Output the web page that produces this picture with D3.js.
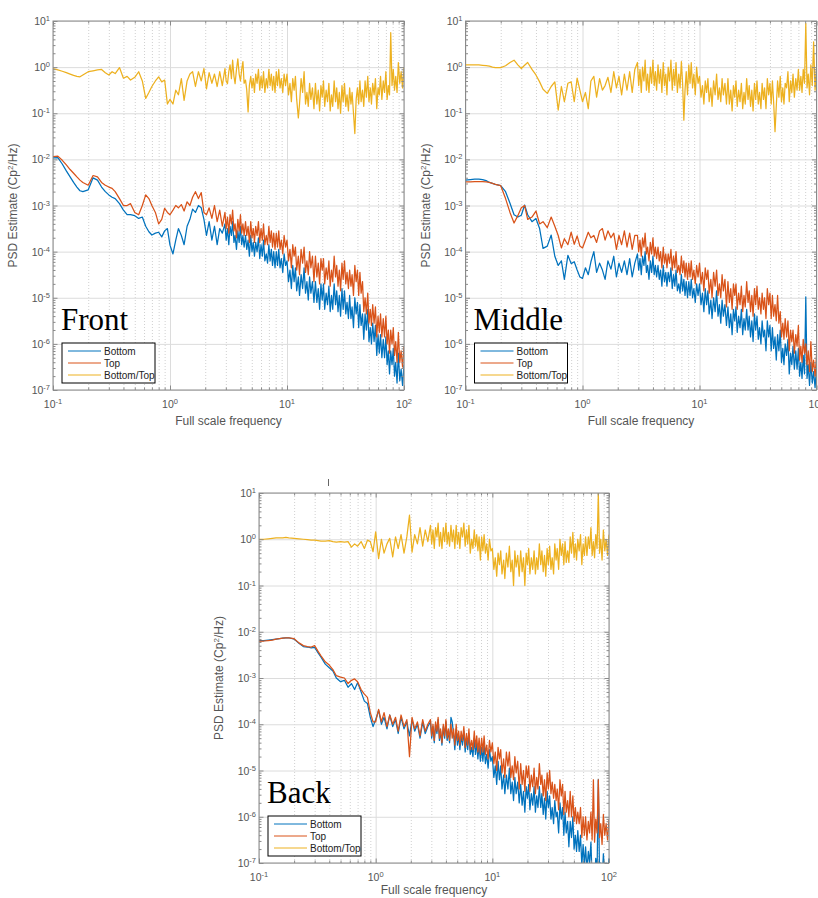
<!DOCTYPE html>
<html>
<head>
<meta charset="utf-8">
<script src="https://cdn.jsdelivr.net/npm/d3@7"></script>
<style>
  body { margin: 0; background: #fff; }
  svg { display: block; font-family: 'Liberation Sans', Arial, sans-serif; }
</style>
</head>
<body>
<div id="fig"></div>
<script>
// frequency grid shared by all three panels (denser where the spectra turn to noise)
const freq = [
  0.10, 0.11, 0.12, 0.13, 0.14, 0.15, 0.16, 0.17, 0.18, 0.20, 0.22, 0.24, 0.26, 0.28, 0.30, 0.32,
  0.34, 0.37, 0.40, 0.43, 0.46, 0.50, 0.54, 0.58, 0.62, 0.66, 0.70, 0.75, 0.80, 0.85, 0.90, 0.95,
  1.0, 1.06, 1.12, 1.18, 1.25, 1.32, 1.4, 1.48, 1.56, 1.65, 1.75, 1.85, 1.95, 2.05, 2.16, 2.28, 2.4, 2.53, 2.66, 2.8,
  2.95, 3.02, 3.1, 3.18, 3.26, 3.35, 3.43, 3.52, 3.6, 3.7, 3.8, 3.9, 4.0, 4.1, 4.2, 4.3, 4.42, 4.53, 4.65, 4.77,
  4.9, 5.02, 5.15, 5.27, 5.4, 5.55, 5.7, 5.85, 6.0, 6.15, 6.3, 6.47, 6.65, 6.82, 7.0, 7.17, 7.35, 7.52, 7.7, 7.9,
  8.1, 8.3, 8.5, 8.72, 8.95, 9.2, 9.45, 9.72,
  10, 10.3, 10.6, 10.9, 11.2, 11.5, 11.8, 12.1, 12.5, 12.8, 13.2, 13.6, 14, 14.4, 14.8, 15.2, 15.6, 16, 16.5, 17,
  17.5, 18, 18.5, 19, 19.5, 20, 20.5, 21, 21.6, 22.2, 22.8, 23.4, 24, 24.6, 25.3, 26, 26.6, 27.3, 28, 28.7,
  29.5, 30.2, 31, 31.8, 32.6, 33.5, 34.3, 35.2, 36, 37, 38, 39, 40, 41, 42, 43, 44.2, 45.3, 46.5, 47.7,
  49, 50.2, 51.5, 52.7, 54, 55.5, 57, 58.5, 60, 61.5, 63, 64.7, 66.5, 68.2, 70, 71.7, 73.5, 75.2, 77, 79,
  81, 83, 85, 87.2, 89.5, 92, 94.5, 97.2, 100
];

// PSD values as log10 exponents
const frontBottom = [
  -1.97, -1.96, -2.1, -2.25, -2.38, -2.5, -2.6, -2.68, -2.7, -2.66, -2.4, -2.45, -2.6, -2.7, -2.77, -2.82,
  -2.85, -2.96, -3.1, -3.2, -3.2, -3.22, -3.28, -3.25, -3.45, -3.57, -3.64, -3.6, -3.58, -3.68, -3.55, -3.5,
  -3.86, -4.05, -3.75, -3.5, -3.65, -3.85, -3.45, -3.3, -3.08, -3.15, -3.0, -3.05, -3.3, -3.65, -3.35, -3.75, -3.45, -3.85, -3.5, -3.6,
  -3.4, -3.75, -3.5, -3.85, -3.45, -3.65, -3.35, -3.8, -3.65, -3.95, -3.55, -3.8, -3.45, -3.85, -3.65, -3.9,
  -3.65, -3.95, -3.75, -4.1, -3.65, -4.0, -3.8, -4.1, -3.8, -4.0, -3.7, -4.15, -3.85, -4.1, -3.75, -4.2,
  -4.05, -4.25, -3.85, -4.2, -3.95, -4.3, -4.0, -4.35, -4.0, -4.3, -3.95, -4.35, -4.15, -4.45, -4.05, -4.3,
  -4.2, -4.65, -4.4, -4.8, -4.3, -4.65, -4.35, -4.85, -4.55, -4.95, -4.5, -4.8, -4.35, -4.9, -4.65, -5.05,
  -4.55, -4.9, -4.65, -5.1, -4.65, -5.1, -4.8, -5.25, -4.7, -5.05, -4.7, -5.25, -4.9, -5.15, -4.75, -5.3,
  -4.95, -5.25, -4.7, -5.15, -4.85, -5.3, -4.95, -5.4, -4.8, -5.25, -4.85, -5.35, -5.1, -5.45, -4.95, -5.45,
  -5.2, -5.65, -5.0, -5.35, -5.1, -5.65, -5.15, -5.6, -5.35, -5.9, -5.35, -5.7, -5.25, -5.95, -5.65, -6.0,
  -5.55, -5.95, -5.6, -6.25, -5.8, -6.2, -5.8, -6.3, -5.9, -6.3, -5.85, -6.45, -6.15, -6.65, -6.15, -6.45,
  -6.1, -6.7, -6.4, -6.85, -6.2, -6.8, -6.55, -6.9, -6.45
];
const frontTop = [
  -1.94, -1.93, -2.02, -2.12, -2.22, -2.3, -2.38, -2.45, -2.5, -2.56, -2.35, -2.38, -2.5, -2.56, -2.6, -2.63,
  -2.7, -2.85, -3.0, -3.0, -2.96, -3.15, -3.2, -3.0, -2.77, -2.85, -3.0, -3.15, -3.4, -3.3, -3.06, -3.15,
  -3.2, -3.1, -3.0, -3.05, -2.98, -3.12, -2.92, -3.0, -2.82, -2.7, -2.85, -2.72, -3.15, -3.2, -3.05, -3.28, -3.0, -3.35, -3.1, -3.45,
  -3.15, -3.5, -3.25, -3.6, -3.2, -3.4, -3.1, -3.55, -3.4, -3.7, -3.3, -3.55, -3.2, -3.6, -3.4, -3.65,
  -3.35, -3.65, -3.45, -3.8, -3.35, -3.7, -3.5, -3.8, -3.45, -3.65, -3.35, -3.8, -3.5, -3.75, -3.4, -3.85,
  -3.65, -3.85, -3.45, -3.8, -3.55, -3.9, -3.6, -3.95, -3.6, -3.9, -3.55, -3.95, -3.75, -4.05, -3.65, -3.9,
  -3.75, -4.2, -3.95, -4.35, -3.85, -4.1, -3.9, -4.4, -4.1, -4.5, -3.95, -4.25, -3.9, -4.45, -4.2, -4.5,
  -4.0, -4.35, -4.1, -4.65, -4.1, -4.55, -4.25, -4.7, -4.15, -4.4, -4.15, -4.7, -4.35, -4.6, -4.2, -4.75,
  -4.4, -4.65, -4.1, -4.55, -4.3, -4.75, -4.4, -4.85, -4.25, -4.6, -4.2, -4.7, -4.45, -4.8, -4.4, -4.75,
  -4.5, -4.95, -4.3, -4.65, -4.4, -4.95, -4.45, -4.9, -4.65, -5.3, -5.0, -5.35, -4.9, -5.55, -5.25, -5.6,
  -5.15, -5.55, -5.2, -5.85, -5.4, -5.75, -5.35, -5.85, -5.45, -5.85, -5.4, -6.0, -5.7, -6.2, -5.7, -6.0,
  -5.65, -6.25, -5.95, -6.4, -5.75, -6.4, -6.15, -6.5, -6.05
];
const frontRatio = [
  -0.03, -0.06, -0.09, -0.12, -0.15, -0.18, -0.2, -0.21, -0.17, -0.1, -0.08, -0.06, -0.05, -0.12, -0.17, -0.1,
  -0.14, -0.01, -0.24, -0.2, -0.28, -0.22, -0.1, -0.3, -0.68, -0.55, -0.42, -0.3, -0.21, -0.32, -0.28, -0.8,
  -0.7, -0.8, -0.5, -0.6, -0.25, -0.72, -0.3, -0.15, -0.1, -0.42, -0.1, -0.3, -0.03, -0.47, -0.12, -0.35, -0.15, -0.42, -0.1, -0.4,
  -0.03, -0.3, -0.36, -0.1, 0.05, -0.25, 0.15, -0.2, -0.36, -0.05, 0.18, -0.15, -0.3, -0.05, 0.12, -0.35,
  -0.28, -0.5, -0.97, -0.4, -0.2, -0.45, -0.25, -0.55, -0.15, -0.35, -0.05, -0.5, -0.2, -0.45, -0.1, -0.55,
  -0.25, -0.45, -0.05, -0.4, -0.15, -0.5, -0.2, -0.55, -0.1, -0.4, -0.05, -0.45, -0.25, -0.55, -0.15, -0.4,
  -0.15, -0.6, -0.35, -0.75, -0.25, -0.5, -0.2, -0.7, -1.1, -0.8, -0.25, -0.55, -0.1, -0.8, -0.55, -0.85,
  -0.35, -0.7, -0.45, -0.9, -0.35, -0.8, -0.5, -0.95, -0.4, -0.65, -0.3, -0.85, -0.5, -0.75, -0.35, -0.95,
  -0.6, -0.85, -0.3, -0.75, -0.45, -0.9, -0.55, -1.0, -0.4, -0.75, -0.35, -0.85, -0.6, -0.95, -0.45, -0.8,
  -0.55, -1.0, -1.44, -0.7, -0.45, -0.8, -0.3, -0.75, -0.5, -0.85, -0.3, -0.65, -0.2, -0.75, -0.45, -0.8,
  -0.35, -0.6, -0.25, -0.9, -0.45, -0.6, -0.2, -0.7, -0.3, -0.55, -0.1, -0.7, -0.4, -0.6, 0.75, -0.4,
  -0.05, -0.5, -0.2, -0.55, 0.1, -0.35, -0.1, -0.45, 0.0
];

const middleBottom = [
  -2.45, -2.44, -2.43, -2.43, -2.44, -2.46, -2.5, -2.52, -2.54, -2.57, -2.7, -2.95, -3.2, -3.25, -3.21, -2.99,
  -3.2, -3.35, -3.28, -3.5, -3.93, -3.88, -3.64, -4.1, -4.3, -4.2, -4.6, -4.08, -4.26, -4.22, -4.4, -4.55,
  -4.58, -4.35, -4.5, -4.22, -4.0, -4.45, -4.25, -4.4, -4.6, -4.2, -4.38, -4.1, -4.55, -4.25, -4.45, -4.2, -4.5, -4.15, -4.55, -4.25,
  -4.05, -4.4, -4.15, -4.5, -4.1, -4.3, -4.0, -4.45, -4.3, -4.6, -4.2, -4.45, -4.1, -4.5, -4.3, -4.55,
  -4.3, -4.6, -4.4, -4.75, -4.3, -4.65, -4.45, -4.75, -4.45, -4.65, -4.35, -4.8, -4.5, -4.75, -4.4, -4.85,
  -4.7, -4.9, -4.5, -4.85, -4.6, -4.95, -4.65, -5.0, -4.65, -4.95, -4.6, -5.0, -4.8, -5.1, -4.7, -4.95,
  -4.7, -5.15, -4.9, -5.3, -4.8, -5.15, -4.85, -5.35, -5.05, -5.45, -5.0, -5.3, -4.85, -5.4, -5.15, -5.55,
  -5.05, -5.4, -5.15, -5.6, -5.2, -5.65, -5.35, -5.8, -5.25, -5.5, -5.2, -5.75, -5.4, -5.65, -5.25, -5.8,
  -5.45, -5.7, -5.25, -5.7, -5.4, -5.85, -5.5, -5.95, -5.35, -5.7, -5.4, -5.9, -5.65, -6.0, -5.5, -5.85,
  -5.7, -6.15, -5.5, -5.85, -5.6, -6.15, -5.65, -6.1, -5.85, -6.35, -5.8, -6.15, -5.7, -6.4, -6.1, -6.45,
  -6.0, -6.25, -5.9, -6.65, -6.2, -6.45, -6.05, -6.55, -6.15, -6.55, -6.1, -6.7, -6.4, -6.75, -6.25, -6.65,
  -4.98, -6.75, -6.45, -6.9, -6.4, -6.85, -6.6, -6.95, -6.5
];
const middleTop = [
  -2.49, -2.49, -2.48, -2.48, -2.48, -2.49, -2.5, -2.52, -2.54, -2.57, -2.85, -3.15, -3.38, -3.22, -3.05, -3.0,
  -3.3, -3.25, -3.12, -3.4, -3.35, -3.48, -3.25, -3.45, -3.65, -3.92, -3.72, -3.85, -3.58, -3.84, -3.66, -3.88,
  -3.92, -3.75, -3.58, -3.7, -3.65, -3.8, -3.55, -3.5, -3.75, -3.55, -3.7, -3.6, -3.95, -3.65, -3.85, -3.55, -3.9, -3.6, -3.95, -3.65,
  -3.65, -4.0, -3.75, -4.1, -3.7, -3.9, -3.6, -4.05, -3.9, -4.2, -3.8, -4.05, -3.7, -4.1, -3.9, -4.15,
  -3.9, -4.2, -4.0, -4.35, -3.9, -4.25, -4.05, -4.35, -4.05, -4.25, -3.95, -4.4, -4.1, -4.35, -4.0, -4.45,
  -4.3, -4.5, -4.1, -4.45, -4.2, -4.55, -4.25, -4.6, -4.25, -4.55, -4.2, -4.6, -4.4, -4.7, -4.3, -4.55,
  -4.25, -4.7, -4.45, -4.85, -4.35, -4.6, -4.4, -4.9, -4.6, -5.0, -4.45, -4.75, -4.4, -4.95, -4.7, -5.0,
  -4.5, -4.85, -4.6, -5.2, -4.65, -5.1, -4.8, -5.25, -4.7, -4.95, -4.7, -5.25, -4.9, -5.15, -4.75, -5.3,
  -4.95, -5.2, -4.65, -5.1, -4.85, -5.3, -4.95, -5.4, -4.8, -5.15, -4.75, -5.25, -5.0, -5.35, -4.9, -5.25,
  -5.0, -5.45, -4.8, -5.15, -4.9, -5.45, -4.95, -5.4, -5.15, -5.5, -4.95, -5.55, -5.3, -5.85, -5.55, -5.9,
  -5.45, -5.85, -5.5, -6.15, -5.7, -5.95, -5.7, -6.2, -5.8, -6.05, -5.6, -6.35, -6.05, -6.4, -5.9, -6.2,
  -6.0, -6.45, -6.15, -6.6, -5.95, -6.6, -6.35, -6.7, -6.25
];
const middleRatio = [
  0.05, 0.05, 0.05, 0.05, 0.04, 0.03, 0.02, 0.0, -0.01, -0.01, 0.03, 0.1, 0.15, 0.05, -0.03, 0.04,
  0.1, -0.05, -0.17, -0.32, -0.48, -0.57, -0.42, -0.32, -0.93, -0.42, -0.75, -0.35, -0.32, -0.75, -0.24, -0.5,
  -0.75, -0.55, -0.9, -0.3, -0.2, -0.65, -0.25, -0.5, -0.4, -0.22, -0.55, -0.1, -0.45, -0.2, -0.6, -0.15, -0.5, -0.1, -0.55, -0.05,
  0.1, -0.4, -0.05, -0.55, 0.0, -0.3, 0.15, -0.5, -0.15, -0.55, 0.0, -0.35, 0.15, -0.4, -0.1, -0.5,
  0.05, -0.35, -0.05, -0.55, 0.1, -0.4, -0.15, -0.6, 0.0, -0.3, 0.15, -0.5, -0.05, -0.4, 0.1, -0.55,
  -0.15, -0.45, 0.12, -0.35, -1.15, -0.5, -0.1, -0.6, 0.05, -0.35, 0.1, -0.45, -0.15, -0.6, 0.0, -0.35,
  -0.2, -0.65, -0.4, -0.8, -0.3, -0.55, -0.25, -0.75, -0.45, -0.85, -0.3, -0.6, -0.15, -0.7, -0.45, -0.75,
  -0.25, -0.6, -0.35, -0.8, -0.25, -0.8, -0.5, -0.95, -0.4, -0.65, -0.3, -0.85, -0.5, -0.75, -0.35, -0.9,
  -0.55, -0.8, -0.25, -0.7, -0.4, -0.85, -0.5, -0.95, -0.35, -0.7, -0.3, -0.8, -0.55, -0.9, -0.35, -0.7,
  -0.45, -0.9, -0.25, -0.6, -0.35, -0.8, -0.3, -0.75, -1.4, -0.85, -0.3, -0.65, -0.2, -0.75, -0.45, -0.8,
  -0.35, -0.45, -0.1, -0.75, -0.3, -0.55, -0.15, -0.65, -0.25, -0.5, -0.05, -0.5, -0.2, -0.55, -0.05, -0.35,
  0.95, -0.45, -0.15, -0.6, 0.05, -0.4, 0.55, -0.5, -0.05
];

const backBottom = [
  -2.19, -2.19, -2.18, -2.17, -2.16, -2.15, -2.14, -2.13, -2.13, -2.16, -2.25, -2.32, -2.33, -2.35, -2.34, -2.45,
  -2.55, -2.7, -2.78, -2.85, -3.0, -3.08, -3.05, -3.2, -3.12, -3.25, -3.1, -3.3, -3.5, -3.55, -3.85, -4.05,
  -3.9, -3.7, -4.0, -3.85, -4.1, -3.8, -4.05, -3.9, -4.2, -3.85, -4.1, -3.95, -4.25, -3.9, -4.15, -4.0, -4.3, -3.95, -4.2, -4.05,
  -3.95, -4.3, -4.05, -4.4, -4.0, -4.2, -3.9, -4.35, -4.15, -4.45, -4.05, -4.3, -3.95, -4.35, -4.15, -4.4,
  -3.85, -3.95, -4.2, -4.55, -4.1, -4.45, -4.25, -4.55, -4.25, -4.45, -4.15, -4.6, -4.3, -4.55, -4.2, -4.65,
  -4.5, -4.7, -4.3, -4.65, -4.4, -4.75, -4.45, -4.8, -4.5, -4.8, -4.45, -4.85, -4.65, -4.95, -4.55, -4.8,
  -4.7, -5.15, -4.9, -5.3, -4.8, -5.2, -4.9, -5.4, -5.1, -5.5, -5.1, -5.4, -4.95, -5.5, -5.25, -5.65,
  -5.15, -5.5, -5.25, -5.7, -5.3, -5.75, -5.45, -5.9, -5.35, -5.6, -5.3, -5.85, -5.5, -5.75, -5.35, -5.9,
  -5.55, -5.8, -5.35, -5.8, -5.5, -5.95, -5.6, -6.05, -5.45, -5.8, -5.55, -6.05, -5.8, -6.15, -5.65, -6.0,
  -5.9, -6.35, -5.7, -6.05, -5.8, -6.4, -5.9, -6.35, -6.1, -6.65, -6.1, -6.45, -6.0, -6.7, -6.4, -6.75,
  -6.3, -6.75, -6.4, -7.05, -6.6, -7.05, -6.65, -7.15, -6.75, -7.0, -6.55, -7.35, -7.05, -7.4, -6.9, -7.2,
  -5.2, -7.3, -7.0, -7.45, -6.8, -7.25, -7.0, -7.35, -6.9
];
const backTop = [
  -2.2, -2.2, -2.19, -2.18, -2.16, -2.15, -2.14, -2.13, -2.13, -2.15, -2.24, -2.3, -2.32, -2.33, -2.3, -2.42,
  -2.52, -2.65, -2.72, -2.82, -2.95, -2.98, -3.0, -3.12, -3.05, -3.02, -3.08, -3.25, -3.35, -3.42, -3.75, -3.95,
  -3.95, -3.68, -3.95, -3.75, -4.05, -3.8, -4.0, -3.85, -4.15, -3.8, -4.05, -3.9, -4.7, -3.85, -4.1, -3.95, -4.25, -3.9, -4.15, -4.0,
  -3.9, -4.25, -4.0, -4.35, -3.95, -4.15, -3.85, -4.3, -4.1, -4.4, -4.0, -4.25, -3.9, -4.3, -4.1, -4.35,
  -4.0, -4.3, -4.1, -4.45, -4.0, -4.35, -4.15, -4.45, -4.15, -4.35, -4.05, -4.5, -4.2, -4.45, -4.1, -4.55,
  -4.35, -4.55, -4.15, -4.5, -4.25, -4.6, -4.3, -4.65, -4.3, -4.6, -4.25, -4.65, -4.45, -4.75, -4.35, -4.6,
  -4.4, -4.85, -4.6, -5.0, -4.5, -4.75, -4.55, -5.05, -4.75, -5.15, -4.6, -4.9, -4.6, -5.15, -4.9, -5.2,
  -4.7, -5.05, -4.8, -5.4, -4.85, -5.3, -5.0, -5.45, -4.9, -5.15, -4.9, -5.45, -5.1, -5.35, -4.95, -5.5,
  -5.15, -5.4, -4.85, -5.3, -5.1, -5.55, -5.2, -5.65, -5.05, -5.4, -5.0, -5.5, -5.25, -5.6, -5.3, -5.65,
  -5.4, -5.85, -5.2, -5.55, -5.3, -5.95, -5.45, -5.9, -5.65, -6.0, -5.45, -6.0, -5.55, -6.1, -5.8, -6.15,
  -5.9, -6.15, -5.8, -6.45, -6.0, -6.4, -6.0, -6.5, -6.1, -6.35, -5.9, -6.5, -5.2, -6.55, -6.05, -6.35,
  -5.2, -6.45, -6.15, -6.6, -5.95, -6.4, -6.15, -6.5, -6.05
];
const backRatio = [
  0.0, 0.0, 0.01, 0.02, 0.03, 0.03, 0.03, 0.04, 0.03, 0.02, 0.01, 0.0, -0.01, -0.02, -0.02, -0.03,
  -0.04, -0.04, -0.03, -0.05, -0.06, -0.05, -0.06, -0.05, -0.17, -0.1, -0.15, -0.05, -0.2, -0.02, -0.05, -0.27,
  0.16, -0.42, 0.0, -0.3, -0.1, 0.02, -0.38, 0.05, -0.2, 0.1, -0.3, 0.05, 0.52, -0.28, 0.1, -0.1, 0.25, -0.15, 0.2, -0.05,
  0.3, -0.1, 0.2, -0.2, 0.25, 0.05, 0.35, -0.15, 0.15, -0.2, 0.25, -0.05, 0.35, -0.1, 0.15, -0.15,
  0.3, -0.05, 0.2, -0.2, 0.3, -0.1, 0.15, -0.2, 0.25, 0.05, 0.35, -0.15, 0.2, -0.1, 0.3, -0.3,
  0.0, -0.2, 0.2, -0.15, 0.1, -0.25, 0.05, -0.45, 0.05, -0.25, 0.1, -0.3, -0.1, -0.45, 0.0, -0.25,
  -0.2, -0.65, -0.4, -0.8, -0.3, -0.55, -0.25, -0.75, -0.45, -0.85, -0.3, -0.6, -0.15, -0.7, -0.45, -1.0,
  -0.25, -0.6, -0.35, -0.8, -0.25, -0.7, -0.4, -1.0, -0.3, -0.55, -0.2, -0.75, -0.4, -0.65, -0.25, -0.75,
  -0.4, -0.65, -0.1, -0.55, -0.25, -0.7, -0.35, -0.8, -0.2, -0.55, -0.15, -0.65, -0.4, -0.75, -0.1, -0.45,
  -0.2, -0.65, 0.0, -0.35, -0.1, -0.55, -0.05, -0.5, -0.25, -0.5, 0.05, -0.3, 0.15, -0.4, -0.1, -0.45,
  0.0, -0.25, 0.1, -0.55, -0.1, -0.35, 0.05, -0.35, 0.05, -0.2, 0.25, -0.35, -0.05, -0.4, 0.1, -0.2,
  1.0, -0.3, 0.0, -0.45, 0.2, -0.25, 0.0, -0.35, 0.1
];

const seriesNames = ['Bottom', 'Top', 'Bottom/Top'];
const seriesColors = ['#0072BD', '#D95319', '#EDB120'];
const xTickExps = [-1, 0, 1, 2];
const yTickExps = [-7, -6, -5, -4, -3, -2, -1, 0, 1];

const panels = [
  { name: 'Front', series: [frontBottom, frontTop, frontRatio], left: 53, top: 21, width: 351, height: 369, xlab: 35 },
  { name: 'Middle', series: [middleBottom, middleTop, middleRatio], left: 465.5, top: 21, width: 351, height: 369, xlab: 35 },
  { name: 'Back', series: [backBottom, backTop, backRatio], left: 259, top: 493, width: 350, height: 370, xlab: 31 },
];

const svg = d3.select('#fig').append('svg').attr('width', 818).attr('height', 898);

// minor ticks (2..9 of each decade)
function minorValues(lo, hi) {
  const out = [];
  for (let e = lo; e < hi; e++) {
    for (let k = 2; k <= 9; k++) out.push(k * Math.pow(10, e));
  }
  return out;
}

function addPower(sel, exp) {
  sel.append('tspan').text('10');
  sel.append('tspan').attr('dy', -4).attr('font-size', 7.5).text(exp);
}

function drawPanel(p, idx) {
  const w = p.width;
  const h = p.height;
  const g = svg.append('g').attr('transform', `translate(${p.left},${p.top})`);

  const x = d3.scaleLog().domain([0.1, 100]).range([0, w]);
  const y = d3.scaleLog().domain([1e-7, 10]).range([h, 0]);

  const xMajor = xTickExps.map((e) => Math.pow(10, e));
  const yMajor = yTickExps.map((e) => Math.pow(10, e));
  const xMinor = minorValues(-1, 2);
  const yMinor = minorValues(-7, 1);

  // minor grid, dotted (vertical only)
  g.append('g')
    .call(d3.axisBottom(x).tickValues(xMinor).tickSize(h).tickFormat(''))
    .call((a) => a.select('.domain').remove())
    .selectAll('line')
    .attr('stroke', '#d0d0d0')
    .attr('stroke-dasharray', '1,2');

  // major grid
  g.append('g')
    .call(d3.axisBottom(x).tickValues(xMajor).tickSize(h).tickFormat(''))
    .call((a) => a.select('.domain').remove())
    .selectAll('line')
    .attr('stroke', '#dcdcdc');
  g.append('g')
    .call(d3.axisRight(y).tickValues(yMajor).tickSize(w).tickFormat(''))
    .call((a) => a.select('.domain').remove())
    .selectAll('line')
    .attr('stroke', '#dcdcdc');

  // data lines
  const clipId = `clip${idx}`;
  g.append('clipPath').attr('id', clipId).append('rect').attr('width', w).attr('height', h);

  const lineGen = d3
    .line()
    .x((d) => x(d[0]))
    .y((d) => y(Math.pow(10, d[1])));

  const plot = g.append('g').attr('clip-path', `url(#${clipId})`);
  p.series.forEach((vals, i) => {
    if (vals.length !== freq.length) console.warn(p.name, seriesNames[i], vals.length, freq.length);
    const pts = freq.map((f, j) => [f, vals[j]]).filter((d) => d[1] !== undefined);
    plot
      .append('path')
      .attr('d', lineGen(pts))
      .attr('fill', 'none')
      .attr('stroke', seriesColors[i])
      .attr('stroke-width', 1.25)
      .attr('stroke-linejoin', 'round');
  });

  // ticks on all four sides, pointing inward
  const tickAxes = [
    [d3.axisBottom, h, 0, x, xMajor, xMinor],
    [d3.axisTop, 0, 0, x, xMajor, xMinor],
    [d3.axisLeft, 0, 0, y, yMajor, yMinor],
    [d3.axisRight, 0, w, y, yMajor, yMinor],
  ];
  tickAxes.forEach(([axisFn, ty, tx, sc, major, minor]) => {
    [[major, -4.5], [minor, -2.5]].forEach(([vals, size]) => {
      g.append('g')
        .attr('transform', `translate(${tx},${ty})`)
        .call(axisFn(sc).tickValues(vals).tickSize(size).tickFormat(''))
        .call((a) => a.select('.domain').remove())
        .selectAll('line')
        .attr('stroke', '#8a8a8a');
    });
  });

  // box
  g.append('rect')
    .attr('width', w)
    .attr('height', h)
    .attr('fill', 'none')
    .attr('stroke', '#8a8a8a')
    .attr('stroke-width', 1);

  // tick labels
  g.selectAll('text.xtick')
    .data(xTickExps)
    .join('text')
    .attr('class', 'xtick')
    .attr('x', (e) => x(Math.pow(10, e)))
    .attr('y', h + 18)
    .attr('text-anchor', 'middle')
    .attr('font-size', 10.5)
    .attr('fill', '#555')
    .each(function (e) {
      addPower(d3.select(this), e);
    });

  g.selectAll('text.ytick')
    .data(yTickExps)
    .join('text')
    .attr('class', 'ytick')
    .attr('x', -3)
    .attr('y', (e) => y(Math.pow(10, e)) + 4)
    .attr('text-anchor', 'end')
    .attr('font-size', 10.5)
    .attr('fill', '#555')
    .each(function (e) {
      addPower(d3.select(this), e);
    });

  // axis labels
  const yl = g
    .append('text')
    .attr('transform', `translate(-36,${h / 2}) rotate(-90)`)
    .attr('text-anchor', 'middle')
    .attr('font-size', 12)
    .attr('fill', '#555');
  yl.append('tspan').text('PSD Estimate (Cp');
  yl.append('tspan').attr('dy', -4).attr('font-size', 8).text('2');
  yl.append('tspan').attr('dy', 4).text('/Hz)');

  g.append('text')
    .attr('x', w / 2)
    .attr('y', h + p.xlab)
    .attr('text-anchor', 'middle')
    .attr('font-size', 12)
    .attr('fill', '#555')
    .text('Full scale frequency');

  // panel name
  g.append('text')
    .attr('x', 8)
    .attr('y', h - 60)
    .attr('font-family', "'Liberation Serif', 'Times New Roman', serif")
    .attr('font-size', 31)
    .attr('fill', '#000')
    .text(p.name);

  // legend
  const legend = g.append('g').attr('transform', `translate(9,${h - 47})`);
  legend
    .append('rect')
    .attr('width', 93)
    .attr('height', 40)
    .attr('fill', '#fff')
    .attr('stroke', '#000')
    .attr('stroke-width', 1);
  legend
    .selectAll('line')
    .data(seriesNames)
    .join('line')
    .attr('x1', 6)
    .attr('x2', 39)
    .attr('y1', (d, i) => 8 + i * 12)
    .attr('y2', (d, i) => 8 + i * 12)
    .attr('stroke', (d, i) => seriesColors[i])
    .attr('stroke-width', 1);
  legend
    .selectAll('text')
    .data(seriesNames)
    .join('text')
    .attr('x', 42)
    .attr('y', (d, i) => 11.5 + i * 12)
    .attr('font-size', 10)
    .attr('fill', '#222')
    .text((d) => d);
}

panels.forEach(drawPanel);

// stray mark above the lower panel
svg.append('line')
  .attr('x1', 328.5).attr('x2', 328.5)
  .attr('y1', 479).attr('y2', 486)
  .attr('stroke', '#666')
  .attr('stroke-width', 1);
</script>
</body>
</html>
